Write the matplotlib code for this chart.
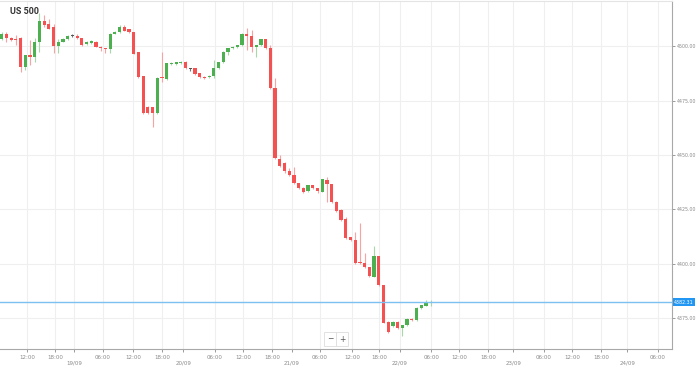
import matplotlib.pyplot as plt
from matplotlib.transforms import blended_transform_factory

# hourly candles (index based axis, one slot per traded hour)
opens = [4503.2, 4505.8, 4503.6, 4503.4, 4503.8, 4490.5, 4495.7, 4495.1, 4501.7, 4511.6,
         4510.1, 4508.6, 4500.0, 4502.0, 4503.1, 4504.7, 4504.6, 4503.6, 4500.8, 4501.3,
         4502.0, 4499.7, 4499.0, 4498.6, 4505.8, 4506.3, 4508.6, 4507.7, 4506.3, 4497.1,
         4486.2, 4472.1, 4471.8, 4469.1, 4485.4, 4484.8, 4491.7, 4491.9, 4492.1, 4492.8,
         4489.5, 4489.8, 4487.5, 4485.9, 4485.6, 4486.4, 4489.8, 4492.5, 4497.4, 4499.2,
         4499.7, 4500.5, 4505.8, 4504.6, 4499.7, 4500.5, 4503.1, 4499.0, 4480.7, 4447.9,
         4446.4, 4442.7, 4440.7, 4436.9, 4434.9, 4433.5, 4436.1, 4434.6, 4433.0, 4438.4,
         4436.4, 4428.5, 4424.6, 4420.4, 4412.1, 4410.8, 4400.6, 4400.1, 4398.3, 4394.0,
         4403.5, 4390.2, 4373.3, 4371.3, 4373.3, 4370.3, 4371.8, 4374.5, 4374.1, 4379.5,
         4380.6, 4381.9]
highs = [4506.4, 4506.4, 4504.1, 4505.1, 4504.1, 4495.9, 4502.8, 4503.6, 4515.0, 4514.3,
         4512.3, 4510.4, 4503.1, 4503.7, 4505.1, 4505.5, 4505.8, 4503.9, 4502.3, 4502.8,
         4502.3, 4500.0, 4499.3, 4506.0, 4506.9, 4509.7, 4509.7, 4508.0, 4506.7, 4497.5,
         4486.4, 4472.4, 4472.2, 4485.8, 4497.1, 4492.4, 4492.6, 4492.8, 4493.1, 4493.1,
         4489.9, 4490.1, 4487.6, 4486.2, 4486.7, 4493.6, 4492.6, 4497.7, 4499.3, 4500.0,
         4500.7, 4506.0, 4508.3, 4507.4, 4500.7, 4503.2, 4503.2, 4500.5, 4485.2, 4449.9,
         4446.7, 4443.8, 4444.5, 4437.0, 4435.2, 4436.3, 4436.3, 4434.7, 4439.1, 4439.7,
         4436.6, 4428.8, 4424.9, 4421.6, 4412.2, 4414.6, 4418.5, 4404.7, 4398.4, 4408.1,
         4403.7, 4390.4, 4373.6, 4373.6, 4373.6, 4372.0, 4374.8, 4374.8, 4380.1, 4381.2,
         4383.3, 4383.3]
lows = [4502.8, 4501.8, 4502.3, 4500.5, 4488.2, 4489.0, 4491.3, 4492.8, 4497.4, 4508.9,
        4507.7, 4496.7, 4496.9, 4501.8, 4502.8, 4504.1, 4503.1, 4500.2, 4500.5, 4500.9,
        4499.6, 4497.9, 4496.9, 4496.9, 4505.5, 4506.0, 4506.9, 4506.2, 4496.3, 4485.5,
        4468.6, 4468.8, 4462.9, 4468.8, 4483.6, 4484.4, 4491.3, 4491.4, 4491.7, 4489.4,
        4488.7, 4486.7, 4485.3, 4485.1, 4485.3, 4485.3, 4489.4, 4492.2, 4495.9, 4498.9,
        4499.3, 4500.0, 4498.2, 4497.4, 4495.1, 4500.2, 4498.6, 4480.3, 4448.1, 4444.5,
        4441.5, 4440.3, 4436.6, 4434.5, 4432.7, 4433.1, 4434.3, 4432.3, 4432.9, 4428.5,
        4427.7, 4423.9, 4419.6, 4411.3, 4410.4, 4400.0, 4399.8, 4398.0, 4393.8, 4393.8,
        4389.7, 4372.5, 4368.3, 4370.9, 4369.9, 4366.7, 4371.3, 4373.8, 4373.8, 4379.1,
        4380.5, 4380.5]
closes = [4505.8, 4503.7, 4502.8, 4502.8, 4490.5, 4495.9, 4495.1, 4502.0, 4511.6, 4509.7,
          4508.1, 4500.0, 4502.0, 4503.2, 4504.6, 4504.7, 4503.6, 4500.5, 4502.0, 4502.3,
          4499.7, 4499.0, 4498.5, 4505.8, 4506.6, 4508.6, 4507.0, 4506.6, 4496.6, 4485.9,
          4469.1, 4469.1, 4469.1, 4485.4, 4485.2, 4492.1, 4492.3, 4492.5, 4492.8, 4489.8,
          4489.5, 4487.1, 4485.6, 4485.4, 4486.4, 4489.8, 4492.5, 4497.4, 4499.2, 4499.7,
          4500.5, 4505.8, 4504.6, 4499.7, 4500.5, 4503.1, 4499.0, 4480.6, 4448.5, 4444.9,
          4442.7, 4440.7, 4436.9, 4434.9, 4433.0, 4436.1, 4434.6, 4433.4, 4438.7, 4436.4,
          4428.5, 4424.3, 4420.0, 4411.6, 4410.8, 4400.4, 4400.1, 4398.3, 4394.3, 4403.5,
          4390.2, 4372.8, 4368.7, 4373.3, 4370.3, 4371.8, 4374.4, 4374.1, 4379.7, 4381.0,
          4381.7, 4382.31]

last_price = 4382.31
y_ticks = [4375, 4400, 4425, 4450, 4475, 4500]

time_pos = [5.4, 11.3, 21.5, 27.9, 34.0, 45.2, 51.2, 57.3, 67.5, 74.3, 80.0, 91.1,
            97.0, 103.2, 115.0, 121.0, 127.1, 139.2]
time_labels = ["12:00", "18:00", "06:00", "12:00", "18:00", "06:00", "12:00", "18:00",
               "06:00", "12:00", "18:00", "06:00", "12:00", "18:00", "06:00", "12:00",
               "18:00", "06:00"]
day_pos = [15.3, 38.5, 61.6, 84.5, 108.5, 132.7]
day_labels = ["19/09", "20/09", "21/09", "22/09", "23/09", "24/09"]

RED = "#f45252"
GREEN = "#4cb050"
RED_W = "#f7a3a3"
GREEN_W = "#a6d8a8"

fig = plt.figure(figsize=(6.98, 3.67), dpi=100)
ax = fig.add_axes([0.0, 0.049, 672 / 698, 0.948])

x = list(range(len(opens)))
body_col, wick_col, bottoms, heights = [], [], [], []
for o, c in zip(opens, closes):
    if c > o:
        body_col.append(GREEN)
        wick_col.append(GREEN_W)
    elif c < o:
        body_col.append(RED)
        wick_col.append(RED_W)
    else:
        body_col.append("#555555")
        wick_col.append("#777777")
    bottoms.append(min(o, c))
    heights.append(max(abs(c - o), 0.5))

ax.vlines(x, lows, highs, colors=wick_col, linewidth=0.8, zorder=2)
ax.bar(x, heights, bottom=bottoms, width=0.68, color=body_col, linewidth=0, zorder=3)

ax.axhline(last_price, color="#7cc0f2", linewidth=1.0, zorder=4)

ax.set_xlim(-0.36, 142.2)
ax.set_ylim(4360.75, 4520.7)

# grid
for p in time_pos + day_pos:
    ax.axvline(p, color="#efefef", linewidth=0.8, zorder=0)
for yv in y_ticks:
    ax.axhline(yv, color="#efefef", linewidth=0.8, zorder=0)

ax.set_xticks(time_pos + day_pos)
ax.set_xticklabels(time_labels + ["\n" + d for d in day_labels])
ax.yaxis.tick_right()
ax.set_yticks(y_ticks)
ax.set_yticklabels([f"{v:.2f}" for v in y_ticks])
ax.tick_params(axis="x", labelsize=4.0, colors="#8a8a8a", length=2, width=0.6, pad=2)
ax.tick_params(axis="y", labelsize=3.4, colors="#8a8a8a", length=2, width=0.6, pad=1.5)

ax.spines["left"].set_visible(False)
ax.spines["top"].set_color("#e4e4e4")
ax.spines["right"].set_color("#a8a8a8")
ax.spines["bottom"].set_color("#a8a8a8")
for s in ["top", "right", "bottom"]:
    ax.spines[s].set_linewidth(0.8)

# current price tag
trans = blended_transform_factory(ax.transAxes, ax.transData)
ax.text(1.003, last_price, f"{last_price:.2f}", transform=trans, fontsize=3.4,
        color="white", va="center", ha="left", clip_on=False,
        bbox=dict(boxstyle="square,pad=0.3", fc="#2196f3", ec="none"))

# title
fig.text(10 / 698, 1 - 12 / 367, "US 500", fontsize=6.5, fontweight="bold",
         color="#333333", family="Roboto", va="center", ha="left")

# zoom buttons
for bx, sym in [(330, "\u2212"), (342, "+")]:
    fig.text(bx / 698, 1 - 339 / 367, sym, fontsize=5.5, color="#555555",
             ha="center", va="center",
             bbox=dict(boxstyle="square,pad=0.35", fc="white", ec="#dddddd", lw=0.6))

fig.savefig("out.png", dpi=100)
